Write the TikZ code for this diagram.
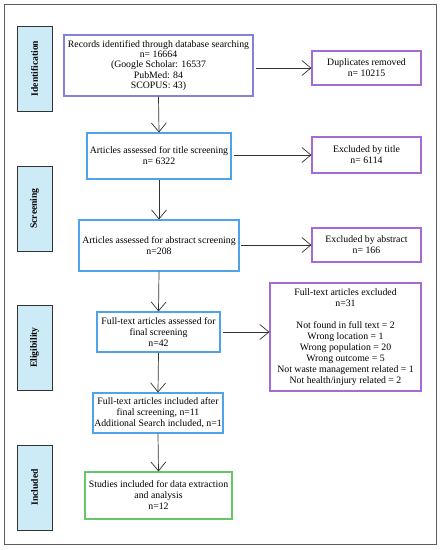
\documentclass[tikz,border=0pt]{standalone}
\usepackage{fontspec}
\setmainfont{Liberation Serif}
\usetikzlibrary{arrows.meta}
\definecolor{recblue}{HTML}{8282DC}
\definecolor{boxblue}{HTML}{4FA3E8}
\definecolor{boxpurple}{HTML}{A66AD8}
\definecolor{boxgreen}{HTML}{64C86A}
\definecolor{sidefill}{HTML}{CDEBF7}
\definecolor{linegray}{HTML}{333333}
\begin{document}
\begin{tikzpicture}[x=1pt,y=-1pt,
  box/.style={draw, line width=1.15pt, align=center, inner sep=1pt,
    font=\fontsize{9.8}{11}\selectfont, text=black},
  side/.style={draw=linegray, fill=sidefill, line width=0.9pt, minimum width=35pt,
    minimum height=85pt, inner sep=0pt},
  sidetext/.style={rotate=90, font=\fontsize{9.6}{11}\selectfont\bfseries},
  arr/.style={draw=linegray, line width=0.7pt, -{Straight Barb[length=9pt,width=15pt,line width=0.7pt]}}]
\useasboundingbox (0,0) rectangle (441,550);
\fill[white] (0,0) rectangle (441,550);
\node[draw=linegray!80, line width=1pt, minimum width=432pt, minimum height=540pt, inner sep=0pt] (frame) at (220,274) {};
% side labels
\node[side] (sid) at (34.5,68.5) {};
\node[sidetext] (sidt) at (sid) {Identification};
\node[side] (sscr) at (34.5,208.5) {};
\node[sidetext] (sscrt) at (sscr) {Screening};
\node[side] (seli) at (34.5,347.5) {};
\node[sidetext] (selit) at (seli) {Eligibility};
\node[side] (sinc) at (34.5,487.5) {};
\node[sidetext] (sinct) at (sinc) {Included};
% boxes
\node[box, draw=recblue, minimum width=189pt, minimum height=61pt] (rec) at (158.5,65.5)
  {Records identified through database searching\\[-0.6pt] n= 16664\\[-0.6pt] (Google Scholar: 16537\\[-0.6pt] PubMed: 84\\[-0.6pt] SCOPUS: 43)};
\node[box, draw=boxpurple, minimum width=109pt, minimum height=34pt] (dup) at (366.5,68)
  {Duplicates removed\\ n= 10215};
\node[box, draw=boxblue, minimum width=144pt, minimum height=46pt] (tit) at (159,156)
  {Articles assessed for title screening\\ n= 6322};
\node[box, draw=boxpurple, minimum width=109pt, minimum height=36pt] (extit) at (366.5,155)
  {Excluded by title\\ n= 6114};
\node[box, draw=boxblue, minimum width=160pt, minimum height=51pt] (abs) at (159,245.5)
  {Articles assessed for abstract screening\\ n=208};
\node[box, draw=boxpurple, minimum width=109pt, minimum height=34pt] (exabs) at (366.5,245)
  {Excluded by abstract\\ n= 166};
\node[box, draw=boxblue, minimum width=123pt, minimum height=40pt] (fta) at (158.5,332)
  {Full-text articles assessed for\\ final screening\\ n=42};
\node[box, draw=boxpurple, minimum width=151pt, minimum height=108pt] (fte) at (345.5,337)
  {Full-text articles excluded\\ n=31\\[11pt] Not found in full text = 2\\ Wrong location = 1\\ Wrong population = 20\\ Wrong outcome = 5\\ Not waste management related = 1\\ Not health/injury related = 2};
\node[box, draw=boxblue, minimum width=130pt, minimum height=40pt] (inc) at (158,413)
  {Full-text articles included after\\ final screening, n=11\\ Additional Search included, n=1};
\node[box, draw=boxgreen, minimum width=147pt, minimum height=47pt] (stu) at (158.5,495.5)
  {Studies included for data extraction\\ and analysis\\ n=12};
% arrows
\draw[arr] (rec.south) -- (tit.north);
\draw[arr] (tit.south) -- (abs.north);
\draw[arr] (abs.south) -- (fta.north);
\draw[arr] (fta.south) -- (inc.north);
\draw[arr] (inc.south) -- (stu.north);
\draw[arr, shorten <=2pt] (rec.east |- dup.west) -- (dup.west);
\draw[arr, shorten <=2pt] (tit.east |- extit.west) -- (extit.west);
\draw[arr, shorten <=1pt] (abs.east |- exabs.west) -- (exabs.west);
\draw[arr, shorten <=2pt] (fta.east) -- (fta.east -| fte.west);
\end{tikzpicture}
\end{document}
